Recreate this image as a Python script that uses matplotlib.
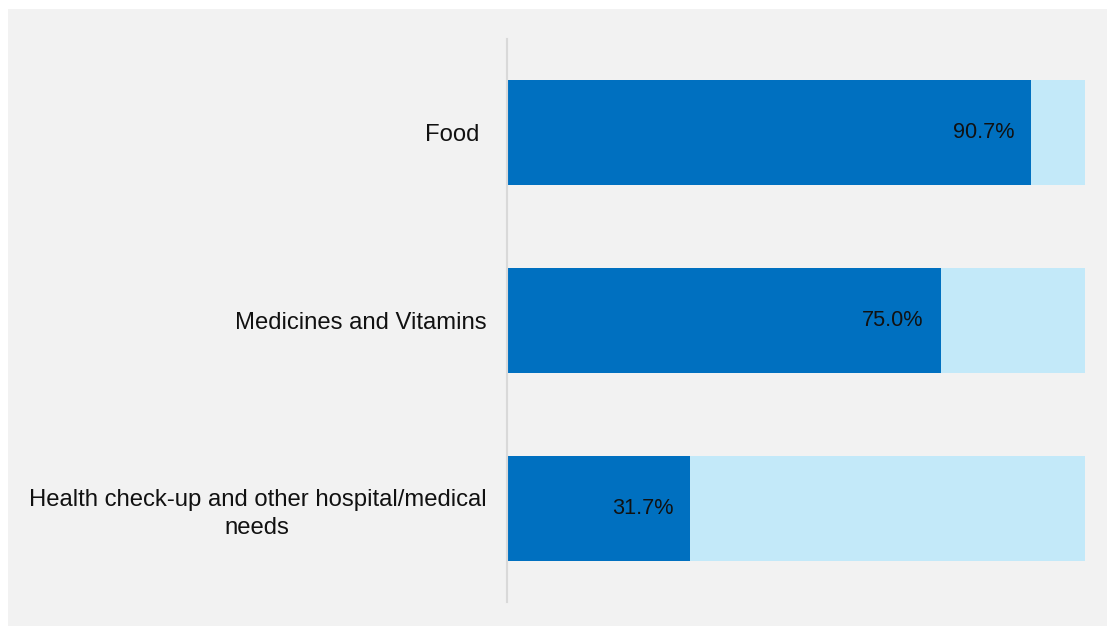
import matplotlib.pyplot as plt
from matplotlib.patches import Rectangle

categories = ['Food ', 'Medicines and Vitamins',
              'Health check-up and other hospital/medical\nneeds']
values = [90.7, 75.0, 31.7]
remainder = [100 - v for v in values]

dark_blue = '#0070c0'
light_blue = '#c3e9f9'
panel_gray = '#f2f2f2'

plt.rcParams['font.family'] = ['Liberation Sans', 'DejaVu Sans']

fig = plt.figure(figsize=(11.07, 6.26), dpi=100)
fig.patch.set_facecolor('white')
# gray panel behind the chart
fig.patches.append(Rectangle((8 / 1107, 0), 1, 1 - 9 / 626, transform=fig.transFigure,
                             facecolor=panel_gray, edgecolor='none', zorder=-10))

ax = fig.add_axes([507 / 1107, 1 - 602 / 626, 578 / 1107, 563 / 626])
ax.set_facecolor('none')
ax.set_zorder(5)

y = list(range(len(categories)))
ax.barh(y, values, height=0.56, color=dark_blue)
ax.barh(y, remainder, left=values, height=0.56, color=light_blue)

for yi, v in zip(y, values):
    ax.annotate(f'{v:.1f}%', xy=(v, yi), xytext=(-12.2, 0), textcoords='offset points',
                ha='right', va='center', fontsize=15.6, color='#111111')

ax.set_xlim(0, 100)
ax.set_ylim(2.5, -0.5)
ax.set_yticks(y)
ax.set_yticklabels(categories, fontsize=17.2, multialignment='center',
                   color='#111111', linespacing=1.35)
ax.tick_params(axis='y', length=0, pad=15)
ax.set_xticks([])

for side in ['top', 'right', 'bottom']:
    ax.spines[side].set_visible(False)
ax.spines['left'].set_color('#d9d9d9')
ax.spines['left'].set_linewidth(1.5)

fig.savefig('out.png', dpi=100)
